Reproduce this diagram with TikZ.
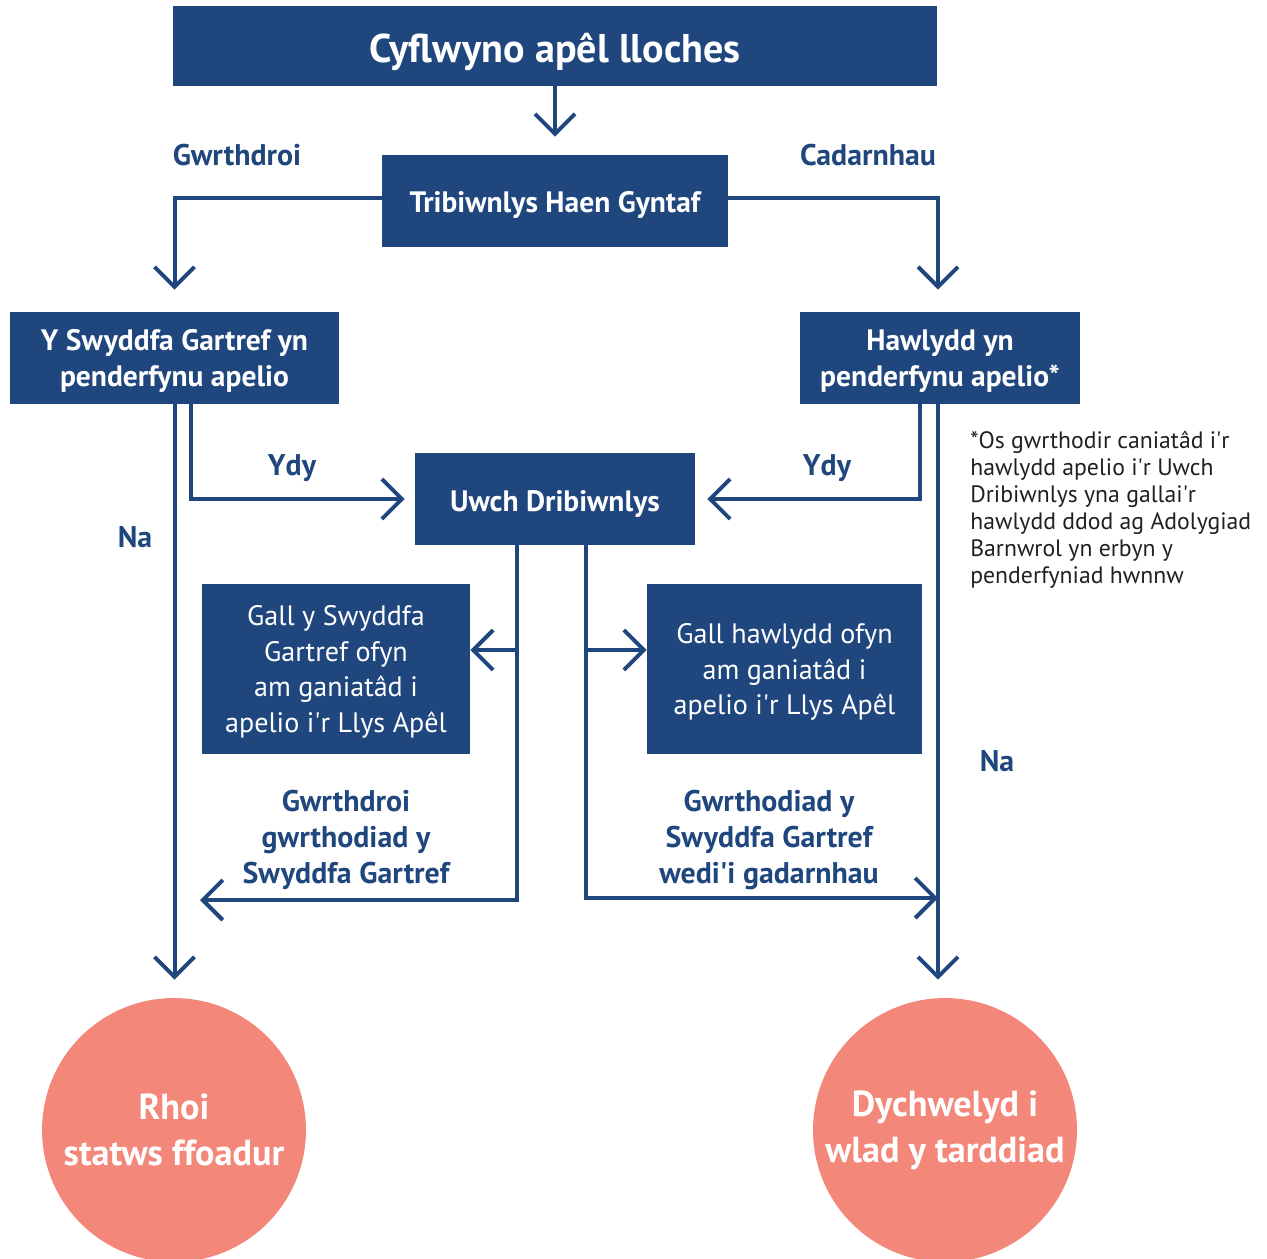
\documentclass[tikz,border=0pt]{standalone}
\usepackage{fontspec}
\setmainfont{PT Sans}
\usetikzlibrary{arrows.meta}

\definecolor{navy}{HTML}{1F467D}
\definecolor{salmon}{HTML}{F3877A}
\definecolor{inkgray}{HTML}{231F20}

\begin{document}
\begin{tikzpicture}[x=0.02cm,y=-0.02cm,
    box/.style={fill=navy,text=white,align=center,inner sep=0pt},
    bigfont/.style={font=\bfseries\fontsize{22.8}{26}\selectfont},
    boxfont/.style={font=\bfseries\fontsize{16.8}{20.4}\selectfont},
    askfont/.style={font=\fontsize{16}{20.4}\selectfont},
    res/.style={circle,fill=salmon,text=white,align=center,inner sep=0pt,
        minimum size=5.28cm,font=\bfseries\fontsize{20.6}{26}\selectfont},
    lbl/.style={text=navy,align=center,inner sep=0pt,
        font=\bfseries\fontsize{17}{20.4}\selectfont},
    flow/.style={navy,line width=0.08cm,
        -{Straight Barb[length=0.4cm,width=0.8cm]}}
]
	\useasboundingbox (0,0) rectangle (1267,1258);

	%% Boxes
	\node[box,bigfont,minimum width=15.28cm,minimum height=1.6cm,text height=19.3pt,text depth=0pt] (appeal) at (555,46) {Cyflwyno apêl lloches};
	\node[box,boxfont,minimum width=6.92cm,minimum height=1.84cm,text height=13.6pt,text depth=0pt] (ftt) at (555,201) {Tribiwnlys Haen Gyntaf};
	\node[box,boxfont,minimum width=6.58cm,minimum height=1.84cm,text depth=0pt] (homeoff) at (174.5,358) {Y Swyddfa Gartref yn\\penderfynu apelio};
	\node[box,boxfont,minimum width=5.6cm,minimum height=1.84cm,text depth=0pt] (claimant) at (940,358) {Hawlydd yn\\penderfynu apelio*};
	\node[box,boxfont,minimum width=5.6cm,minimum height=1.84cm,text height=14.7pt,text depth=0pt] (utrib) at (555,499) {Uwch Dribiwnlys};
	\node[box,askfont,minimum width=5.36cm,minimum height=3.4cm,text depth=0pt] (hoask) at (336,669) {Gall y Swyddfa\\Gartref ofyn\\am ganiatâd i\\apelio i\textquotesingle r Llys Apêl};
	\node[box,askfont,minimum width=5.5cm,minimum height=3.4cm,text depth=0pt] (clask) at (784.5,669) {Gall hawlydd ofyn\\am ganiatâd i\\apelio i\textquotesingle r Llys Apêl};

	%% Outcomes
	\node[res] (refugee) at (174,1130) {Rhoi\\statws ffoadur};
	\node[res] (return) at (945,1130) {Dychwelyd i\\wlad y tarddiad};

	%% Labels
	\node[lbl] (lreverse) at (237,155) {Gwrthdroi};
	\node[lbl] (lconfirm) at (868,155) {Cadarnhau};
	\node[lbl] (lyesho) at (292,468) {Ydy};
	\node[lbl] (lyescl) at (827,468) {Ydy};
	\node[lbl] (lnoho) at (135,537) {Na};
	\node[lbl] (lnocl) at (997,761) {Na};
	\node[lbl] (lrefusal) at (346,840) {Gwrthdroi\\gwrthodiad y\\Swyddfa Gartref};
	\node[lbl] (lupheld) at (769,840) {Gwrthodiad y\\Swyddfa Gartref\\wedi\textquotesingle i gadarnhau};
	\node[anchor=north west,align=left,inner sep=0pt,text=inkgray,
	      font=\fontsize{13.5}{15.3}\selectfont] (note) at (970,431)
	  {*Os gwrthodir caniatâd i\textquotesingle r\\hawlydd apelio i\textquotesingle r Uwch\\Dribiwnlys yna gallai\textquotesingle r\\hawlydd ddod ag Adolygiad\\Barnwrol yn erbyn y\\penderfyniad hwnnw};

	%% Points where the lines leave or meet
	\coordinate (dropl) at ([xshift=-0.76cm]utrib.south);
	\coordinate (dropr) at ([xshift=0.62cm]utrib.south);
	\coordinate (forkl) at (517,650);
	\coordinate (forkr) at (586,650);
	\coordinate (hitl) at (175,900);
	\coordinate (hitr) at (938,898);

	%% Lines
	\draw[flow,shorten >=0.36cm] (appeal) -- (ftt);
	\draw[flow,shorten >=0.44cm] ([yshift=0.06cm]ftt.west) -| (homeoff.north);
	\draw[flow,shorten >=0.44cm] ([yshift=0.06cm]ftt.east) -| ([xshift=-0.04cm]claimant.north);
	\draw[flow,shorten >=0.2cm] ([xshift=0.33cm]homeoff.south) |- (utrib.west);
	\draw[flow,shorten >=0.24cm] ([xshift=-0.4cm]claimant.south) |- (utrib.east);
	\draw[flow,shorten >=0.36cm] (homeoff.south) -- (homeoff.south |- refugee.north);
	\draw[flow,shorten >=0.36cm] ([xshift=-0.04cm]claimant.south) -- ([xshift=-0.04cm]claimant.south |- return.north);
	\draw[flow,shorten >=0.5cm] (dropl) |- (hitl);
	\draw[flow] (dropr) |- (hitr);
	\draw[flow] (forkl) -- (forkl -| hoask.east);
	\draw[flow] (forkr) -- (forkr -| clask.west);
\end{tikzpicture}
\end{document}
